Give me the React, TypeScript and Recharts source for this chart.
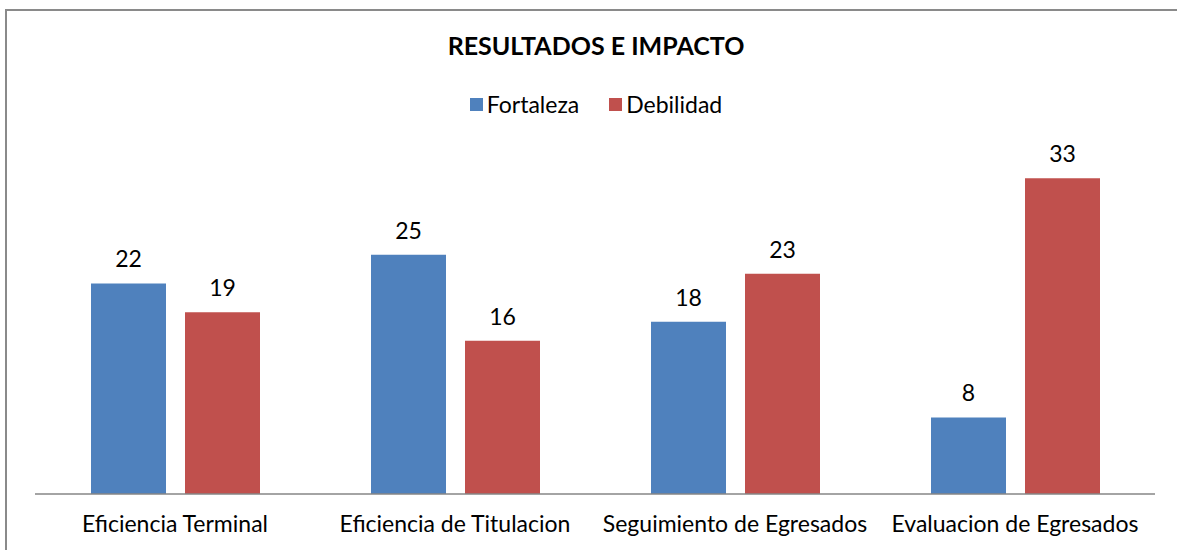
import { Bar, BarChart, LabelList, XAxis, YAxis } from 'recharts'

const categories = [
  'Eficiencia Terminal',
  'Eficiencia de Titulacion',
  'Seguimiento de Egresados',
  'Evaluacion de Egresados',
]
const fortaleza = [22, 25, 18, 8]
const debilidad = [19, 16, 23, 33]

const chartData = categories.map((name, i) => ({
  name,
  Fortaleza: fortaleza[i],
  Debilidad: debilidad[i],
}))

const FONT = 'Lato, "Open Sans", sans-serif'
const BLUE = '#4F81BD'
const RED = '#C0504D'

function LegendBox() {
  const items = [
    { label: 'Fortaleza', color: BLUE },
    { label: 'Debilidad', color: RED },
  ]
  return (
    <div style={{ display: 'flex', justifyContent: 'center', gap: 30 }}>
      {items.map((it) => (
        <div key={it.label} style={{ display: 'flex', alignItems: 'center' }}>
          <span style={{ width: 13, height: 13, background: it.color, marginRight: 4 }} />
          <span style={{ fontSize: 23, color: '#000' }}>{it.label}</span>
        </div>
      ))}
    </div>
  )
}

function App() {
  return (
    <div style={{ position: 'absolute', left: 0, top: 0, width: 1177, height: 550, overflow: 'hidden', background: '#fff', fontFamily: FONT }}>
      <div style={{ position: 'absolute', left: 5, top: 9, width: 1220, height: 580, border: '2px solid #8a8a8a', boxSizing: 'border-box' }} />
      <div style={{ position: 'absolute', left: 0, top: 30, width: 1192, textAlign: 'center', fontSize: 25, fontWeight: 'bold', color: '#000' }}>
        RESULTADOS E IMPACTO
      </div>
      <div style={{ position: 'absolute', left: 0, top: 90, width: 1192 }}>
        <LegendBox />
      </div>
      <div style={{ position: 'absolute', left: 0, top: 0 }}>
        <BarChart
          width={1177}
          height={550}
          data={chartData}
          margin={{ top: 159, right: 22, left: 35, bottom: 0 }}
          barCategoryGap="20%"
          barGap={19}
        >
          <XAxis
            dataKey="name"
            axisLine={{ stroke: '#868686', strokeWidth: 1.5 }}
            tickLine={false}
            tickSize={0}
            tickMargin={22}
            height={56}
            interval={0}
            tick={{ fill: '#000', fontSize: 23, fontFamily: FONT }}
          />
          <YAxis hide domain={[0, 35]} />
          <Bar dataKey="Fortaleza" fill={BLUE} isAnimationActive={false}>
            <LabelList dataKey="Fortaleza" position="top" offset={16} fill="#000" fontSize={23} fontFamily={FONT} />
          </Bar>
          <Bar dataKey="Debilidad" fill={RED} isAnimationActive={false}>
            <LabelList dataKey="Debilidad" position="top" offset={16} fill="#000" fontSize={23} fontFamily={FONT} />
          </Bar>
        </BarChart>
      </div>
    </div>
  )
}

export default App
